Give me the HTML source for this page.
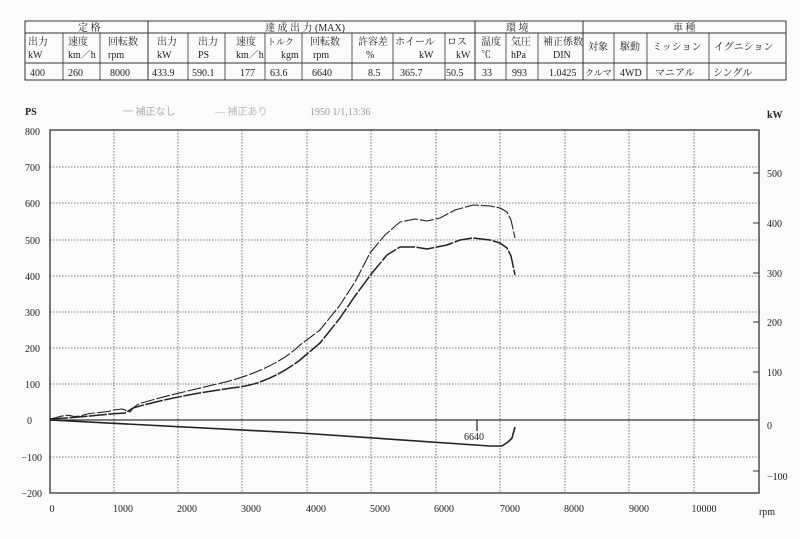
<!DOCTYPE html>
<html><head><meta charset="utf-8"><style>
body{margin:0;background:#fbfbfb;}
svg{display:block;}
text{font-family:"Liberation Serif","Noto Serif CJK SC","Noto Sans CJK JP",serif;fill:#222;}
.t{font-size:10px;}
.j{font-family:"Liberation Serif","Noto Sans CJK JP",sans-serif;font-size:10px;}
</style></head><body>
<svg width="800" height="539" viewBox="0 0 800 539" xmlns="http://www.w3.org/2000/svg">
<rect width="800" height="539" fill="#fbfbfb"/>
<g stroke="#333" stroke-width="1" fill="none">
<rect x="25" y="21" width="761" height="59"/>
<line x1="25" y1="33" x2="786" y2="33"/>
<line x1="25" y1="63" x2="786" y2="63"/>
<line x1="148" y1="21" x2="148" y2="80"/>
<line x1="475" y1="21" x2="475" y2="80"/>
<line x1="583" y1="21" x2="583" y2="80"/>
<g stroke-width="0.8">
<line x1="63" y1="33" x2="63" y2="80"/><line x1="100" y1="33" x2="100" y2="80"/>
<line x1="188" y1="33" x2="188" y2="80"/><line x1="225" y1="33" x2="225" y2="80"/>
<line x1="265" y1="33" x2="265" y2="80"/><line x1="302" y1="33" x2="302" y2="80"/>
<line x1="352" y1="33" x2="352" y2="80"/><line x1="393" y1="33" x2="393" y2="80"/>
<line x1="445" y1="33" x2="445" y2="80"/><line x1="506" y1="33" x2="506" y2="80"/>
<line x1="538" y1="33" x2="538" y2="80"/><line x1="614" y1="33" x2="614" y2="80"/>
<line x1="647" y1="33" x2="647" y2="80"/><line x1="709" y1="33" x2="709" y2="80"/>
</g></g>
<g class="j">
<text x="78" y="31">定 格</text>
<text x="265" y="31">達 成 出 力 (MAX)</text>
<text x="506" y="31">環 境</text>
<text x="673" y="31">車 種</text>
<text x="28" y="45">出力</text><text x="28" y="58">kW</text>
<text x="68" y="45">速度</text><text x="68" y="58">km／h</text>
<text x="108" y="45">回転数</text><text x="108" y="58">rpm</text>
<text x="157" y="45">出力</text><text x="157" y="58">kW</text>
<text x="198" y="45">出力</text><text x="198" y="58">PS</text>
<text x="236" y="45">速度</text><text x="236" y="58">km／h</text>
<text x="267" y="45" font-size="9">トルク</text><text x="281" y="58">kgm</text>
<text x="310" y="45">回転数</text><text x="313" y="58">rpm</text>
<text x="358" y="45">許容差</text><text x="366" y="58">%</text>
<text x="395" y="45">ホイール</text><text x="419" y="58">kW</text>
<text x="447" y="45">ロス</text><text x="456" y="58">kW</text>
<text x="481" y="45">温度</text><text x="481" y="58">℃</text>
<text x="511" y="45">気圧</text><text x="511" y="58">hPa</text>
<text x="543" y="45">補正係数</text><text x="553" y="58">DIN</text>
<text x="588" y="50">対象</text><text x="620" y="50">駆動</text>
<text x="652" y="50">ミッション</text><text x="714" y="50">イグニション</text>
<text x="30" y="76">400</text><text x="68" y="76">260</text><text x="110" y="76">8000</text>
<text x="152" y="76">433.9</text><text x="192" y="76">590.1</text><text x="240" y="76">177</text>
<text x="270" y="76">63.6</text><text x="312" y="76">6640</text><text x="368" y="76">8.5</text>
<text x="400" y="76">365.7</text><text x="446" y="76">50.5</text><text x="482" y="76">33</text>
<text x="512" y="76">993</text><text x="549" y="76">1.0425</text><text x="585" y="76" font-size="9">クルマ</text>
<text x="620" y="76">4WD</text><text x="655" y="76">マニアル</text><text x="713" y="76">シングル</text>
</g>
<text class="t" x="25" y="115" font-weight="bold">PS</text>
<text class="j" x="123" y="115" style="fill:#aaa">一 補正なし</text>
<text class="j" x="215" y="115" style="fill:#bbb">― 補正あり</text>
<text class="t" x="310" y="115" style="fill:#999">1950 1/1,13:36</text>
<text class="t" x="767" y="118" font-weight="bold">kW</text>
<g stroke="#555" stroke-width="0.8" stroke-dasharray="1.5,1.5">
<line x1="50" y1="167" x2="759" y2="167"/><line x1="50" y1="203" x2="759" y2="203"/>
<line x1="50" y1="240" x2="759" y2="240"/><line x1="50" y1="276" x2="759" y2="276"/>
<line x1="50" y1="312" x2="759" y2="312"/><line x1="50" y1="348" x2="759" y2="348"/>
<line x1="50" y1="384" x2="759" y2="384"/><line x1="50" y1="457" x2="759" y2="457"/>
<line x1="114" y1="130" x2="114" y2="493"/><line x1="178" y1="130" x2="178" y2="493"/>
<line x1="242" y1="130" x2="242" y2="493"/><line x1="307" y1="130" x2="307" y2="493"/>
<line x1="371" y1="130" x2="371" y2="493"/><line x1="436" y1="130" x2="436" y2="493"/>
<line x1="500" y1="130" x2="500" y2="493"/><line x1="565" y1="130" x2="565" y2="493"/>
<line x1="629" y1="130" x2="629" y2="493"/><line x1="694" y1="130" x2="694" y2="493"/>
</g>
<rect x="50" y="130" width="709" height="363" fill="none" stroke="#333" stroke-width="1.3"/>
<line x1="50" y1="420" x2="759" y2="420" stroke="#333" stroke-width="1.2"/>
<g stroke="#333" stroke-width="1">
<line x1="753" y1="173" x2="759" y2="173"/><line x1="753" y1="223" x2="759" y2="223"/>
<line x1="753" y1="273" x2="759" y2="273"/><line x1="753" y1="322" x2="759" y2="322"/>
<line x1="753" y1="372" x2="759" y2="372"/><line x1="753" y1="471" x2="759" y2="471"/>
</g>
<g class="t" text-anchor="end">
<text x="40" y="135">800</text><text x="40" y="171">700</text><text x="40" y="207">600</text>
<text x="40" y="244">500</text><text x="40" y="280">400</text><text x="40" y="316">300</text>
<text x="40" y="352">200</text><text x="40" y="388">100</text><text x="32" y="424">0</text>
<text x="42" y="461">−100</text><text x="42" y="497">−200</text>
</g>
<g class="t">
<text x="767" y="177">500</text><text x="767" y="227">400</text><text x="767" y="277">300</text>
<text x="767" y="326">200</text><text x="767" y="376">100</text><text x="767" y="429">0</text>
<text x="767" y="480">−100</text>
</g>
<g class="t" text-anchor="middle">
<text x="52" y="512">0</text><text x="123" y="512">1000</text><text x="187" y="512">2000</text>
<text x="251" y="512">3000</text><text x="316" y="512">4000</text><text x="380" y="512">5000</text>
<text x="444" y="512">6000</text><text x="510" y="512">7000</text><text x="574" y="512">8000</text>
<text x="639" y="512">9000</text><text x="704" y="512">10000</text><text x="767" y="515">rpm</text>
</g>
<g fill="none" stroke="#222" stroke-linejoin="round">
<path stroke-width="1.1" stroke-dasharray="14,2" d="M50,419 C60,417 65,414 72,416 C80,418 85,413 95,413 C103,412 108,412 114,410 L122,409 L130,412 C135,405 140,403 145,402 C180,392 215,385 233,380 C260,372 285,360 300,345 L320,330 L340,305 L355,282 L370,253 L385,235 L400,222 L415,219 L427,221 L440,218 L455,210 L473,205 L490,206 L500,208 L507,212 L511,220 L515,238"/>
<path stroke-width="1.5" stroke-dasharray="18,1.5" d="M50,419 C70,418 90,416 110,414 L125,413 L133,408 C160,400 200,392 240,387 C260,384 280,375 300,360 L320,343 L340,318 L355,296 L372,273 L387,255 L400,247 L415,247 L427,249 L447,245 L460,240 L473,238 L490,240 L500,243 L507,248 L511,256 L515,275"/>
<path stroke-width="1.6" d="M50,420 L300,433 L490,446 L502,446 L508,442 L512,438 L515,427"/>
<line x1="477" y1="420" x2="477" y2="431" stroke-width="1.2"/>
</g>
<text class="t" x="474" y="440" text-anchor="middle">6640</text>
</svg>
</body></html>
